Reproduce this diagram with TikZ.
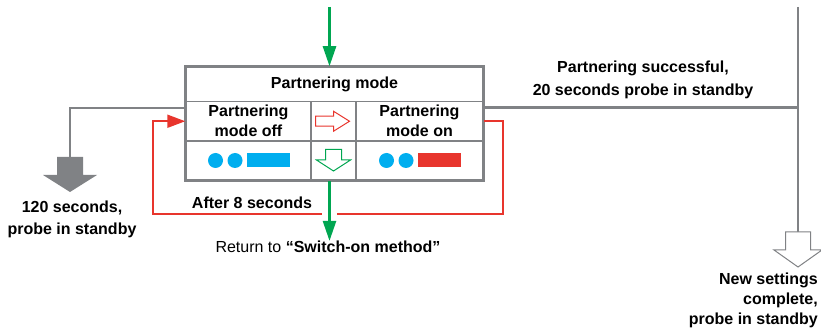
\documentclass[tikz,border=0pt]{standalone}
\usepackage{fontspec}
\setmainfont{Liberation Sans}
\usetikzlibrary{arrows.meta,calc,positioning}

\definecolor{ggray}{RGB}{128,130,133}
\definecolor{pred}{RGB}{232,53,45}
\definecolor{pgreen}{RGB}{0,166,81}
\definecolor{pblue}{RGB}{0,174,239}

\begin{document}
\begin{tikzpicture}[x=1pt,y=-1pt,
    lbl/.style={font=\fontsize{16}{20}\selectfont\bfseries, align=center, inner sep=0pt},
    cell/.style={draw=ggray, line width=1.5pt, inner sep=0pt, minimum height=39.5pt},
    grayline/.style={draw=ggray, line width=2.5pt},
    redline/.style={draw=pred, line width=2pt},
    greenline/.style={draw=pgreen, line width=2.5pt, -{Triangle[width=13pt,length=20pt]}}]

    \useasboundingbox (0,0) rectangle (821,328);

    % Table of the two modes
    \node[cell, lbl, minimum width=297pt, minimum height=34.5pt] (hdr) at (334.5,84.25) {Partnering mode};
    \node[cell, lbl, minimum width=125pt] (off) at (248.5,121.25) {Partnering\\mode off};
    \node[cell, minimum width=45pt] (mid) at (333.5,121.25) {};
    \node[cell, lbl, minimum width=127pt] (on) at (419.5,121.25) {Partnering\\mode on};
    \node[cell, minimum width=125pt, minimum height=39pt] (offb) at (248.5,160.5) {};
    \node[cell, minimum width=45pt, minimum height=39pt] (midb) at (333.5,160.5) {};
    \node[cell, minimum width=127pt, minimum height=39pt] (onb) at (419.5,160.5) {};
    \draw[ggray, line width=2.5pt] (hdr.north west) rectangle (onb.south east);

    % LED signals
    \foreach \cell/\col in {offb/pblue, onb/pred} {
        \fill[pblue] ($(\cell.center)+(-33,0)$) circle (7.5);
        \fill[pblue] ($(\cell.center)+(-13.5,0)$) circle (7.5);
        \fill[\col] ($(\cell.center)+(-1.5,-7)$) rectangle ($(\cell.center)+(41,7)$);
    }

    % Open arrows inside the table
    \draw[pred, line width=1pt, fill=white] (mid.center) ++(-18,-5) -- ++(18,0) -- ++(0,-5)
        -- ++(16,10) -- ++(-16,10) -- ++(0,-5) -- ++(-18,0) -- cycle;
    \draw[pgreen, line width=1pt, fill=white] (midb.center) ++(-8,-11) -- ++(16,0) -- ++(0,10.5)
        -- ++(9,0) -- ++(-17,11) -- ++(-17,-11) -- ++(9,0) -- cycle;

    % Red loop back after 8 seconds
    \coordinate (loopR) at (503,214);
    \coordinate (loopL) at (153,214);
    \draw[redline, -{Triangle[width=13pt,length=18pt]}] (on.east) -| (loopR) -- (loopL) |- (off.west);
    \node[lbl] (after) at (252,203) {After 8 seconds};

    % Green entry and exit
    \coordinate (intop) at (329.5,7);
    \node[font=\fontsize{16}{20}\selectfont, inner sep=0pt] (ret) at (328,247)
        {Return to \textbf{“Switch-on method”}};
    \draw[white, line width=4pt] ($(intop |- loopL)+(-7.5,0)$) -- ($(intop |- loopL)+(7.5,0)$);
    \draw[greenline] (intop) -- (intop |- hdr.north);
    \draw[greenline] (intop |- midb.south) -- (intop |- ret.north);

    % Timeout to the left
    \coordinate (exitL) at ($(off.north west)+(0,7.5)$);
    \coordinate (leftdrop) at (70,157);
    \draw[grayline] (exitL) -| (leftdrop);
    \fill[ggray] (leftdrop) ++(-13,0) -- ++(26,0) -- ++(0,18) -- ++(14,0) -- ++(-27,17)
        -- ++(-27,-17) -- ++(14,0) -- cycle;
    \node[lbl, font=\fontsize{16}{22}\selectfont\bfseries] (stbyL) at (72,219) {120 seconds,\\probe in standby};

    % Success to the right
    \coordinate (exitR) at ($(on.north east)+(0,7)$);
    \coordinate (vtop) at (798,7);
    \coordinate (rightdrop) at (798,232);
    \draw[grayline] (exitR) -- (exitR -| vtop);
    \draw[grayline] (vtop) -- (rightdrop);
    \draw[ggray, line width=1pt, fill=white] (rightdrop) ++(-12.5,0) -- ++(25,0) -- ++(0,18)
        -- ++(11.5,0) -- ++(-24,17) -- ++(-24,-17) -- ++(11.5,0) -- cycle;
    \node[lbl, font=\fontsize{16}{23}\selectfont\bfseries] (success) at (643,80)
        {Partnering successful,\\20 seconds probe in standby};
    \node[lbl, align=right, anchor=east] (stbyR) at (818,300) {New settings\\complete,\\probe in standby};

\end{tikzpicture}
\end{document}
